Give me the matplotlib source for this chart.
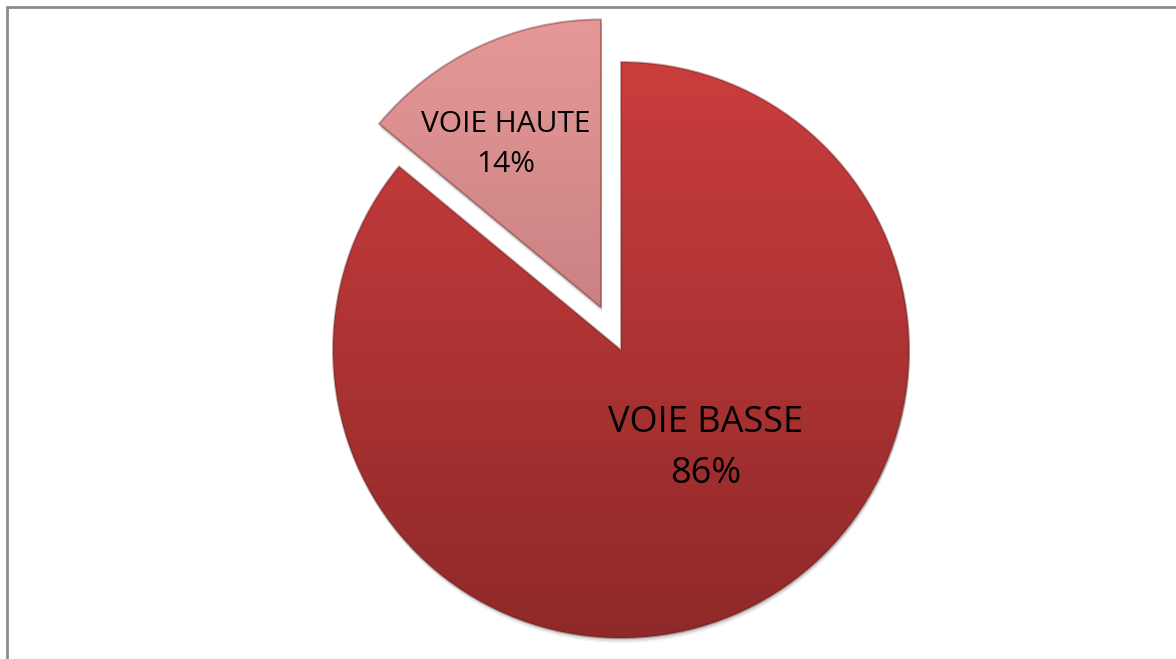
import numpy as np
import matplotlib.pyplot as plt
from matplotlib.patches import Rectangle, Wedge

labels = ["VOIE BASSE", "VOIE HAUTE"]
values = [86, 14]
# top/bottom colours of the vertical gradient in each slice
grad_top = ["#cb3d3d", "#e69898"]
grad_bot = ["#8f2929", "#b06c6c"]
label_sizes = [26, 21.5]
label_spacing = [1.55, 1.5]

W, H = 1176, 659
fig = plt.figure(figsize=(W / 100, H / 100), dpi=100)
ax = fig.add_axes([0, 0, 1, 1])

cx, cy, r = 621, H - 350, 288
# explode is in data units here since radius is in pixels
wedges, _ = ax.pie(values, explode=[0, 47], startangle=90, counterclock=False,
                   radius=r, center=(cx, cy), frame=True,
                   wedgeprops=dict(linewidth=0))
ax.set_xlim(0, W)
ax.set_ylim(0, H)
ax.set_aspect("equal")
ax.axis("off")


def hex_rgb(h):
    h = h.lstrip("#")
    return np.array([int(h[i:i + 2], 16) / 255 for i in (0, 2, 4)])


for w, top, bot in zip(wedges, grad_top, grad_bot):
    w.set_facecolor("none")
    x0, y0 = w.center
    # soft drop shadow under each slice
    for k, a in [(5, 0.05), (3.5, 0.07), (2, 0.09)]:
        ax.add_patch(Wedge((x0 + 1, y0 - k), w.r, w.theta1, w.theta2,
                           facecolor="#000000", alpha=a, linewidth=0, zorder=0.5))
    t = np.linspace(0, 1, 256)[:, None]
    img = hex_rgb(top)[None, None, :] * (1 - t[..., None]) + hex_rgb(bot)[None, None, :] * t[..., None]
    img = np.repeat(img, 2, axis=1)
    im = ax.imshow(img, extent=(x0 - r, x0 + r, y0 - r, y0 + r), origin="upper",
                   aspect="auto", zorder=1, interpolation="bilinear")
    im.set_clip_path(w)
    # darker rim for the bevel look
    w.set_edgecolor((0.35, 0.08, 0.08, 0.35))
    w.set_linewidth(1.5)
    w.set_zorder(2)

ax.set_xlim(0, W)
ax.set_ylim(0, H)

# data labels: radial distance and position across the slice angle
label_r = [0.45, 0.655]
label_frac = [0.55, 0.6]
for w, lab, v, fs, ls, lr, lf in zip(wedges, labels, values, label_sizes,
                                     label_spacing, label_r, label_frac):
    x0, y0 = w.center
    ang = np.deg2rad(w.theta1 + lf * (w.theta2 - w.theta1))
    tx = x0 + lr * r * np.cos(ang)
    ty = y0 + lr * r * np.sin(ang)
    ax.text(tx, ty, f"{lab}\n{v}%", ha="center", va="center", fontsize=fs,
            family="Open Sans", linespacing=ls, zorder=3)

# chart frame
ax.add_patch(Rectangle((7, -20), W + 40, H - 7 + 20, fill=False,
                       edgecolor="#8c8c8c", linewidth=2, zorder=4, clip_on=False))

fig.savefig("out.png", dpi=100)
